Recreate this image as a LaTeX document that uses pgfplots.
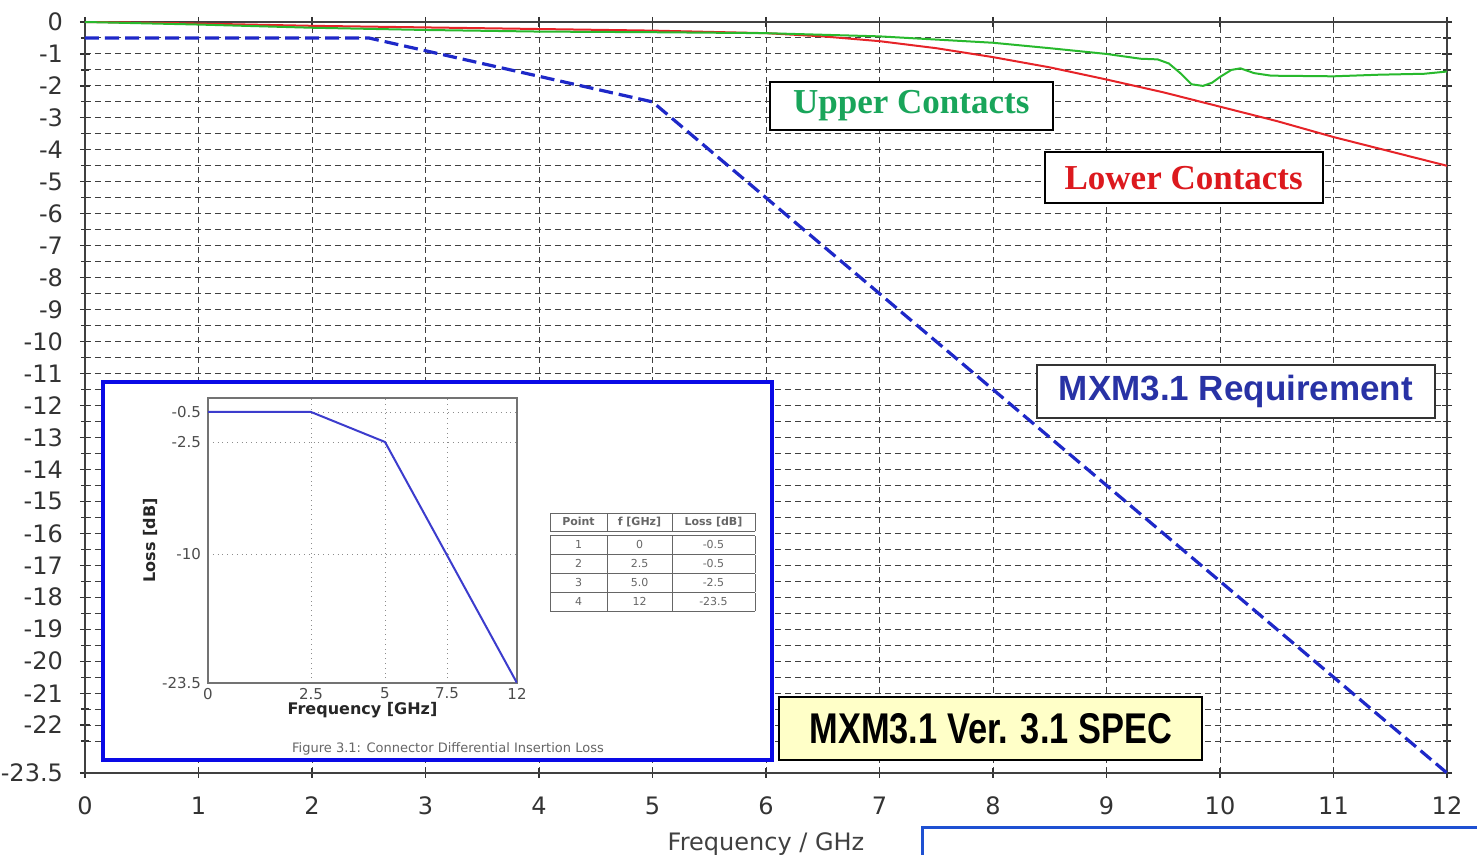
\documentclass[border=0pt]{standalone}
\usepackage{fontspec}
\setmainfont{DejaVu Sans}
\newfontfamily\serifb{Liberation Serif}
\newfontfamily\arialb{Liberation Sans}
\newfontfamily\narrowb[FakeStretch=0.80]{Liberation Sans}
\usepackage{pgfplots}
\pgfplotsset{compat=1.18}

\definecolor{redline}{RGB}{230,35,40}
\definecolor{greenline}{RGB}{40,185,45}
\definecolor{greentext}{RGB}{25,165,90}
\definecolor{redtext}{RGB}{220,25,30}
\definecolor{reqblue}{RGB}{40,50,165}
\definecolor{dashblue}{RGB}{30,40,200}
\definecolor{boxblue}{RGB}{10,10,230}
\definecolor{specyellow}{RGB}{255,255,200}
\definecolor{cornerblue}{RGB}{30,80,210}

\begin{document}
\begin{tikzpicture}
\path[use as bounding box] (0,0) rectangle (738.5pt,427.5pt);

% main chart
\begin{axis}[
  at={(42.5pt,41pt)}, anchor=south west,
  scale only axis, width=681pt, height=375.5pt,
  xmin=0, xmax=12, ymin=-23.5, ymax=0,
  xtick={0,...,12},
  xticklabels={0,1,2,3,4,5,6,7,8,9,10,11,12},
  ytick={0,-1,...,-22,-23.5},
  yticklabels={0,-1,-2,-3,-4,-5,-6,-7,-8,-9,-10,-11,-12,-13,-14,-15,-16,-17,-18,-19,-20,-21,-22,-23.5},
  minor ytick={-0.5,-1.5,...,-22.5},
  xmajorgrids, ymajorgrids, yminorgrids,
  major grid style={black!75, line width=0.5pt, dash pattern=on 3pt off 2pt},
  minor grid style={black!75, line width=0.5pt, dash pattern=on 3pt off 2pt},
  tick align=center,
  major tick length=5pt, minor tick length=4pt,
  tick style={black!80, line width=0.6pt},
  axis line style={black!75, line width=0.8pt},
  tick label style={font=\fontsize{12}{14}\selectfont, text=black!80},
  xticklabel style={yshift=-6pt},
  yticklabel style={xshift=-5pt},
  xlabel={Frequency / GHz},
  xlabel style={at={(axis description cs:0.5,0)}, anchor=center, yshift=-35.5pt,
    font=\fontsize{12}{14}\selectfont, text=black!75},
  clip=false,
]
% MXM3.1 requirement
\addplot[dashblue, line width=1.6pt, dash pattern=on 7pt off 3pt] coordinates {
  (0,-0.5) (2.5,-0.5) (5,-2.5) (12,-23.5)};
% lower contacts
\addplot[redline, line width=1pt] coordinates {
  (0,0) (0.5,-0.02) (1,-0.05) (2,-0.12) (3,-0.17) (4,-0.22) (5,-0.27)
  (6,-0.35) (6.5,-0.45) (7,-0.6) (7.5,-0.82) (8,-1.1) (8.5,-1.42)
  (9,-1.8) (9.5,-2.2) (10,-2.65) (10.5,-3.1) (11,-3.6) (11.5,-4.05) (12,-4.5)};
% upper contacts
\addplot[greenline, line width=1pt] coordinates {
  (0,0) (1,-0.08) (2,-0.18) (3,-0.25) (4,-0.3) (5,-0.32) (6,-0.35)
  (6.5,-0.4) (7,-0.45) (7.5,-0.55) (8,-0.65) (8.5,-0.82) (9,-1.0)
  (9.2,-1.1) (9.3,-1.15) (9.45,-1.17) (9.55,-1.3) (9.65,-1.6) (9.75,-1.95)
  (9.85,-2.0) (9.93,-1.9) (10,-1.72) (10.1,-1.5) (10.18,-1.45) (10.3,-1.6)
  (10.45,-1.68) (11,-1.7) (11.4,-1.65) (11.8,-1.62) (12,-1.55)};

\node[draw=black, line width=1pt, fill=white, minimum width=141.5pt, minimum height=24pt,
  font=\serifb\bfseries\fontsize{17.5}{20}\selectfont, text=greentext]
  at (axis cs:7.28,-2.63) {Upper Contacts};
\node[draw=black, line width=1pt, fill=white, minimum width=139pt, minimum height=25.5pt,
  font=\serifb\bfseries\fontsize{17.5}{20}\selectfont, text=redtext]
  at (axis cs:9.68,-4.88) {Lower Contacts};
\node[draw=black!80, line width=1pt, fill=white, minimum width=199pt, minimum height=26.5pt,
  font=\arialb\bfseries\fontsize{17.5}{20}\selectfont, text=reqblue]
  at (axis cs:10.14,-11.55) {MXM3.1 Requirement};
\node[draw=black, line width=1pt, fill=specyellow, minimum width=211.5pt, minimum height=31.5pt,
  font=\narrowb\bfseries\fontsize{21.5}{24}\selectfont, text=black]
  at (axis cs:7.98,-22.12) {MXM3.1 Ver. 3.1 SPEC};
\end{axis}

% inset with the specification figure
\draw[boxblue, line width=1.6pt, fill=white] (51.5pt,47.5pt) rectangle (386pt,236.5pt);

\begin{axis}[
  at={(104pt,86pt)}, anchor=south west,
  scale only axis, width=154.5pt, height=142.5pt,
  xmin=0, xmax=154.5, ymin=0, ymax=142.5,
  xtick={0,51.5,88.5,119.5,154.5},
  xticklabels={0,2.5,5,7.5,12},
  ytick={0,64.5,120.5,135.5},
  yticklabels={-23.5,-10,-2.5,-0.5},
  grid=major,
  major grid style={black!45, line width=0.4pt, dotted},
  major tick length=0pt,
  axis line style={black!55, line width=0.6pt},
  tick label style={font=\fontsize{7.5}{9}\selectfont, text=black!70},
  xticklabel style={yshift=1pt},
  xlabel={Frequency [GHz]},
  ylabel={Loss [dB]},
  xlabel style={at={(axis description cs:0.5,0)}, anchor=center, yshift=-13.5pt,
    font=\bfseries\fontsize{8}{9}\selectfont, text=black!85},
  ylabel style={at={(axis description cs:0,0.5)}, anchor=center, yshift=29pt,
    font=\bfseries\fontsize{8}{9}\selectfont, text=black!85},
]
\addplot[color={rgb,255:red,60;green,60;blue,205}, line width=1pt] coordinates {
  (0,135.5) (51.5,135.5) (88.5,120.5) (154.5,0)};
\end{axis}

\node[font=\fontsize{6.5}{8}\selectfont, text=black!60] at (224pt,53pt)
  {Figure 3.1: Connector Differential Insertion Loss};

\node[inner sep=0pt, text=black!60, font=\fontsize{5.5}{9}\selectfont] at (326.25pt,146.5pt) {%
  \setlength{\tabcolsep}{0pt}%
  \begin{tabular}{|c|c|c|}
  \hline
  \makebox[28.5pt]{\bfseries Point} & \makebox[32.5pt]{\bfseries f [GHz]} & \makebox[41.5pt]{\bfseries Loss [dB]}\\
  \hline\hline
  1 & 0 & -0.5\\ \hline
  2 & 2.5 & -0.5\\ \hline
  3 & 5.0 & -2.5\\ \hline
  4 & 12 & -23.5\\ \hline
  \end{tabular}};

% edge of a neighbouring frame, bottom right
\draw[cornerblue, line width=1.5pt] (461pt,-10pt) -- (461pt,13.5pt) -- (760pt,13.5pt);
\end{tikzpicture}
\end{document}
